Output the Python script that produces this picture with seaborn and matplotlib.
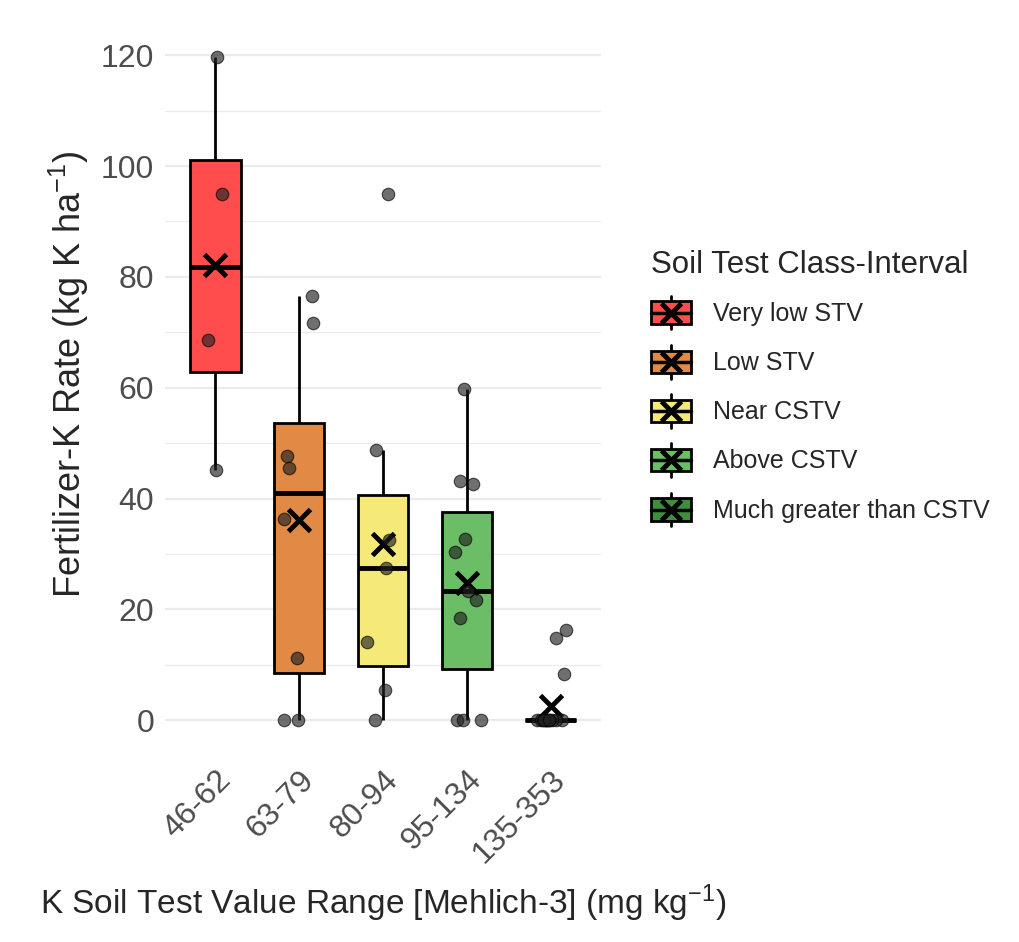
import numpy as np
import pandas as pd
import matplotlib.pyplot as plt
import seaborn as sns
from matplotlib.legend_handler import HandlerBase
from matplotlib.patches import Rectangle
from matplotlib.lines import Line2D

ranges = ["46-62", "63-79", "80-94", "95-134", "135-353"]
classes = ["Very low STV", "Low STV", "Near CSTV", "Above CSTV", "Much greater than CSTV"]
colors = ["#FF4D4D", "#E08A45", "#F5EA78", "#6CBE66", "#3E8E3E"]

rate_46_62 = [119.7, 94.9, 68.7, 45.1]
rate_63_79 = [76.5, 71.7, 47.6, 45.6, 36.4, 11.3, 0, 0]
rate_80_94 = [94.9, 48.7, 32.5, 27.4, 14.1, 5.4, 0]
rate_95_134 = [59.8, 43.2, 42.6, 32.7, 30.3, 23.3, 21.7, 18.5, 0, 0, 0]
rate_135_353 = [16.3, 14.9, 8.4, 0, 0, 0, 0, 0, 0, 0, 0, 0, 0, 0, 0]

rates = [rate_46_62, rate_63_79, rate_80_94, rate_95_134, rate_135_353]
rows = []
for r, c, vals in zip(ranges, classes, rates):
    for v in vals:
        rows.append({"rng": r, "cls": c, "rate": v})
df = pd.DataFrame(rows)

sns.set_style("white")
plt.rcParams["font.family"] = ["Liberation Sans", "DejaVu Sans"]
plt.rcParams["mathtext.fontset"] = "custom"
plt.rcParams["mathtext.rm"] = "Liberation Sans"
plt.rcParams["mathtext.it"] = "Liberation Sans"

fig = plt.figure(figsize=(10.2, 9.42), dpi=100)
ax = fig.add_axes([0.162, 0.200, 0.427, 0.775])

sns.boxplot(data=df, x="rng", y="rate", hue="cls", order=ranges, hue_order=classes,
            palette=colors, saturation=1, dodge=False, width=0.6, showfliers=False,
            showcaps=False, linecolor="black", linewidth=2, medianprops={"linewidth": 3.5},
            legend=False, ax=ax)

np.random.seed(3)
sns.stripplot(data=df, x="rng", y="rate", order=ranges, color="#222222", alpha=0.65,
              size=9, jitter=0.2, linewidth=0.8, edgecolor="black", ax=ax)

sns.pointplot(data=df, x="rng", y="rate", order=ranges, estimator="mean", errorbar=None,
              color="black", marker="x", linestyle="none", markersize=16,
              markeredgewidth=3.5, ax=ax)

ax.set_xlim(-0.6, 4.6)
ax.set_ylim(-6, 125.7)
ax.set_yticks([0, 20, 40, 60, 80, 100, 120])
ax.set_yticks([10, 30, 50, 70, 90, 110], minor=True)
ax.grid(axis="y", which="major", color="#EBEBEB", linewidth=1.6)
ax.grid(axis="y", which="minor", color="#EBEBEB", linewidth=0.9)
ax.set_axisbelow(True)
for s in ax.spines.values():
    s.set_visible(False)
ax.tick_params(axis="both", which="both", length=0, labelsize=23, labelcolor="#4D4D4D")
ax.tick_params(axis="y", pad=8)
ax.tick_params(axis="x", pad=8)
plt.setp(ax.get_xticklabels(), rotation=45, ha="right", rotation_mode="anchor")

ax.set_xlabel(r"K Soil Test Value Range [Mehlich-3] (mg kg$^{-1}$)", fontsize=24, labelpad=10)
ax.set_ylabel(r"Fertilizer-K Rate (kg K ha$^{-1}$)", fontsize=26)
ax.yaxis.set_label_coords(-0.17, 0.52)


class BoxKey(HandlerBase):
    def create_artists(self, legend, orig_handle, xdescent, ydescent, width, height, fontsize, trans):
        x0, y0 = -xdescent, -ydescent
        cx, cy = x0 + width / 2, y0 + height / 2
        bh = height * 0.66
        body = Rectangle((x0, cy - bh / 2), width, bh, facecolor=orig_handle.get_facecolor(),
                         edgecolor="black", linewidth=2, transform=trans)
        wl = Line2D([cx, cx], [y0, y0 + height], color="black", linewidth=2, transform=trans)
        med = Line2D([x0, x0 + width], [cy, cy], color="black", linewidth=2.5, transform=trans)
        mk = Line2D([cx], [cy], marker="x", color="black", markersize=14, markeredgewidth=3.5,
                    linestyle="none", transform=trans)
        return [wl, body, med, mk]


handles = [Rectangle((0, 0), 1, 1, facecolor=c) for c in colors]
leg = fig.legend(handles, classes, handler_map={Rectangle: BoxKey()},
                 loc="upper left", bbox_to_anchor=(0.628, 0.745), frameon=False,
                 title="Soil Test Class-Interval", title_fontsize=22.5, fontsize=18,
                 handlelength=1.6, handleheight=1.7, labelspacing=0.62, handletextpad=0.9,
                 borderaxespad=0)
leg._legend_box.align = "left"

fig.savefig("out.png", dpi=100)
